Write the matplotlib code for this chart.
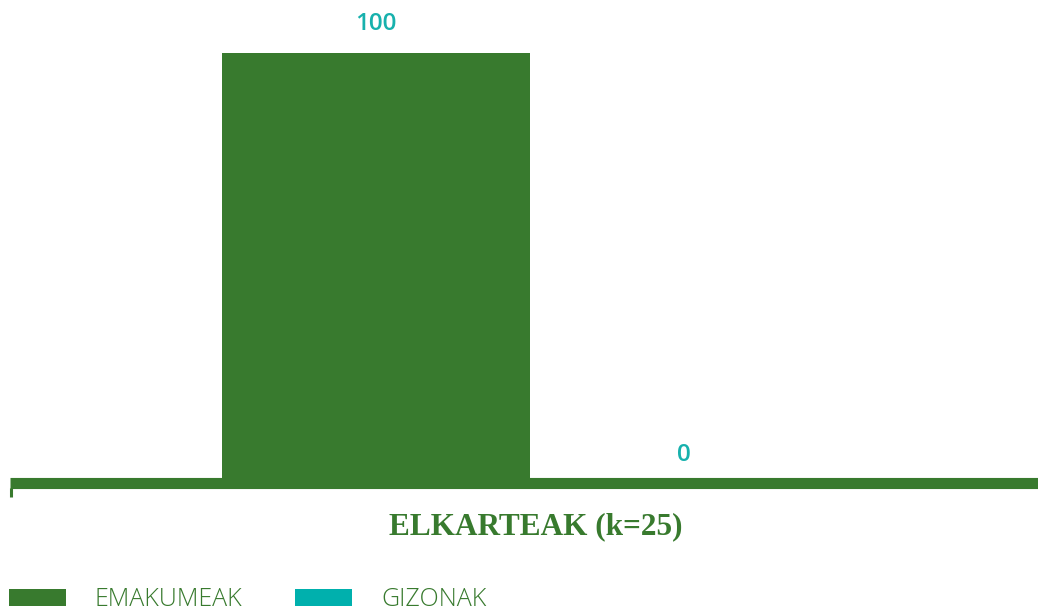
import matplotlib
matplotlib.use("Agg")
import matplotlib.pyplot as plt

categories = ["ELKARTEAK (k=25)"]
series_names = ["EMAKUMEAK", "GIZONAK"]
values_emakumeak = [100]
values_gizonak = [0]

GREEN = "#387a2e"
TEAL = "#00b0ad"
LABEL_TEAL = "#17b1ad"

W, H = 1038, 611
fig = plt.figure(figsize=(W / 100, H / 100), dpi=100)

# axes: x from 10 px to 1038 px, y zero at 483 px from top, top at 0
ax = fig.add_axes([10 / W, (H - 483) / H, 1028 / W, 483 / H])
ax.set_xlim(-1.688, 1.649)
ax.set_ylim(0, 112.3)

bw = 1.0
b1 = ax.bar([-0.5], values_emakumeak, width=bw, color=GREEN, label=series_names[0], zorder=2)
b2 = ax.bar([0.5], values_gizonak, width=bw, color=TEAL, label=series_names[1], zorder=2)

for rect, v in list(zip(b1, values_emakumeak)) + list(zip(b2, values_gizonak)):
    ax.annotate(f"{v}", (rect.get_x() + rect.get_width() / 2, v),
                xytext=(0, 20.5), textcoords="offset points", ha="center", va="center",
                fontsize=17.5, color=LABEL_TEAL, family="Open Sans", fontweight="semibold")

for s in ["top", "right", "left"]:
    ax.spines[s].set_visible(False)
ax.spines["bottom"].set_color(GREEN)
ax.spines["bottom"].set_linewidth(8)
ax.spines["bottom"].set_capstyle("butt")
ax.set_yticks([])
ax.set_xticks([0])
ax.set_xticklabels([])
ax.tick_params(axis="x", length=0)
# boundary tick at left edge
ax.plot([-1.688 + 0.004, -1.688 + 0.004], [-1.2, -3.2], color=GREEN, lw=2.2,
        clip_on=False, solid_capstyle="butt")

ax.text(0.02, -10.1, categories[0], ha="center", va="center", fontsize=22.5,
        fontweight="bold", family="Liberation Serif", color=GREEN)

leg = fig.legend(handles=[b1, b2], loc="lower left", bbox_to_anchor=(0.001, -0.014),
                 ncol=2, frameon=False, prop={"family": "Open Sans", "size": 18, "weight": "light"},
                 handlelength=2.28, handleheight=0.68, handletextpad=1.16, columnspacing=2.12,
                 borderaxespad=0.0, borderpad=0.3)
for t in leg.get_texts():
    t.set_color(GREEN)

fig.savefig("out.png", dpi=100)
